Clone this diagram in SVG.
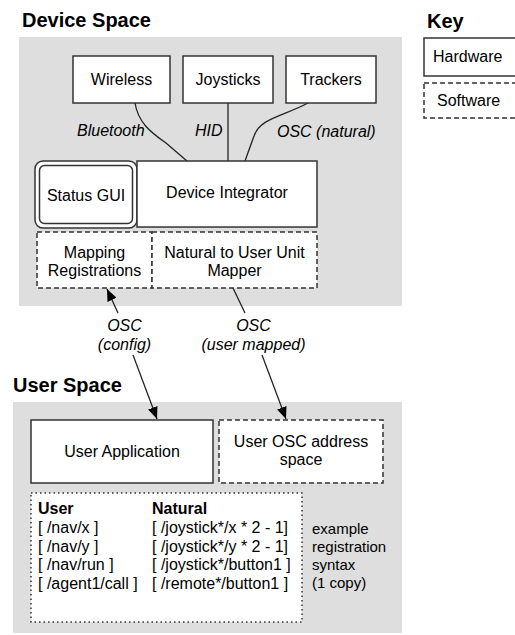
<svg xmlns="http://www.w3.org/2000/svg" width="515" height="635" viewBox="0 0 515 635">
<defs>
<style>
.panel{fill:#dedede;stroke:none}
.box{fill:#fff;stroke:#333;stroke-width:1.5}
.dash{fill:#fff;stroke:#333;stroke-width:1.5;stroke-dasharray:5 3}
.dot{fill:#fff;stroke:#333;stroke-width:1.5;stroke-dasharray:1.5 3}
.t{font-family:"Liberation Sans",Arial,sans-serif;font-size:16px;fill:#000}
.c{text-anchor:middle}
.i{font-style:italic}
.h{font-family:"Liberation Sans",Arial,sans-serif;font-size:20px;font-weight:bold;fill:#000}
.b{font-weight:bold}
.s{font-size:15px}
.line{fill:none;stroke:#222;stroke-width:1.3}
</style>
<marker id="arr" viewBox="0 0 12 10" refX="12" refY="5" markerWidth="12" markerHeight="10" markerUnits="userSpaceOnUse" orient="auto">
<path d="M0,0 L12,5 L0,10 Z" fill="#000"/>
</marker>
</defs>

<g id="panels">
<rect class="panel" x="19" y="37" width="383" height="269"/>
<rect class="panel" x="13" y="402" width="389" height="231"/>
<text class="h" x="22" y="27">Device Space</text>
<text class="h" x="13" y="392">User Space</text>
</g>

<g id="key">
<text class="h" x="427" y="28">Key</text>
<rect class="box" x="424" y="38" width="100" height="38"/>
<text class="t" x="433" y="62">Hardware</text>
<rect class="dash" x="424" y="83" width="100" height="35"/>
<text class="t" x="437" y="106">Software</text>
</g>

<g id="connectors">
<path class="line" d="M135,103 C138,122 150,132 166,143 L187,161"/>
<path class="line" d="M228,103 L228,161"/>
<path class="line" d="M308,103 C284,116 260,118 254,136 L245,161"/>
<path class="line" d="M118,313 L107,289" marker-end="url(#arr)"/>
<path class="line" d="M133,355 L157,419" marker-end="url(#arr)"/>
<path class="line" d="M233,288 L245,313"/>
<path class="line" d="M262,355 L286,419" marker-end="url(#arr)"/>
<text class="t i" x="77" y="136">Bluetooth</text>
<text class="t i" x="195" y="136">HID</text>
<text class="t i" x="277" y="137">OSC (natural)</text>
<text class="t i c" x="124.5" y="331">OSC</text>
<text class="t i c" x="124.5" y="350">(config)</text>
<text class="t i c" x="253.5" y="331">OSC</text>
<text class="t i c" x="253.5" y="350">(user mapped)</text>
</g>

<g id="wireless">
<rect class="box" x="73" y="56" width="97" height="47"/>
<text class="t c" x="121.5" y="85">Wireless</text>
</g>
<g id="joysticks">
<rect class="box" x="183" y="56" width="90" height="47"/>
<text class="t c" x="228" y="85">Joysticks</text>
</g>
<g id="trackers">
<rect class="box" x="286" y="56" width="90" height="47"/>
<text class="t c" x="331" y="85">Trackers</text>
</g>

<g id="status-gui">
<rect class="box" x="35" y="161" width="102" height="67" rx="8"/>
<rect class="box" x="39.5" y="165.5" width="93" height="58" rx="5"/>
<text class="t c" x="86" y="201">Status GUI</text>
</g>
<g id="device-integrator">
<rect class="box" x="137" y="161" width="180" height="66"/>
<text class="t c" x="227" y="198">Device Integrator</text>
</g>

<g id="mapping-registrations">
<rect class="dash" x="37" y="232" width="115" height="56"/>
<text class="t c" x="94.5" y="258">Mapping</text>
<text class="t c" x="94.5" y="276">Registrations</text>
</g>
<g id="natural-mapper">
<rect class="dash" x="152" y="232" width="165" height="56"/>
<text class="t c" x="234.5" y="258">Natural to User Unit</text>
<text class="t c" x="234.5" y="276">Mapper</text>
</g>

<g id="user-application">
<rect class="box" x="31" y="420" width="182" height="63"/>
<text class="t c" x="122" y="457">User Application</text>
</g>
<g id="user-osc">
<rect class="dash" x="219" y="420" width="164" height="63"/>
<text class="t c" x="301" y="447">User OSC address</text>
<text class="t c" x="301" y="465">space</text>
</g>

<g id="registration-syntax">
<rect class="dot" x="31" y="493" width="271" height="129"/>
<text class="t b" x="38" y="513.5">User</text>
<text class="t b" x="152" y="513.5">Natural</text>
<text class="t" x="38" y="533">[ /nav/x ]</text>
<text class="t" x="38" y="551.5">[ /nav/y ]</text>
<text class="t" x="38" y="570">[ /nav/run ]</text>
<text class="t" x="38" y="588.5">[ /agent1/call ]</text>
<text class="t" x="152" y="533">[ /joystick*/x * 2 - 1]</text>
<text class="t" x="152" y="551.5">[ /joystick*/y * 2 - 1]</text>
<text class="t" x="152" y="570">[ /joystick*/button1 ]</text>
<text class="t" x="152" y="588.5">[ /remote*/button1 ]</text>
<text class="t s" x="312" y="534">example</text>
<text class="t s" x="312" y="552">registration</text>
<text class="t s" x="312" y="570">syntax</text>
<text class="t s" x="312" y="588">(1 copy)</text>
</g>
</svg>
